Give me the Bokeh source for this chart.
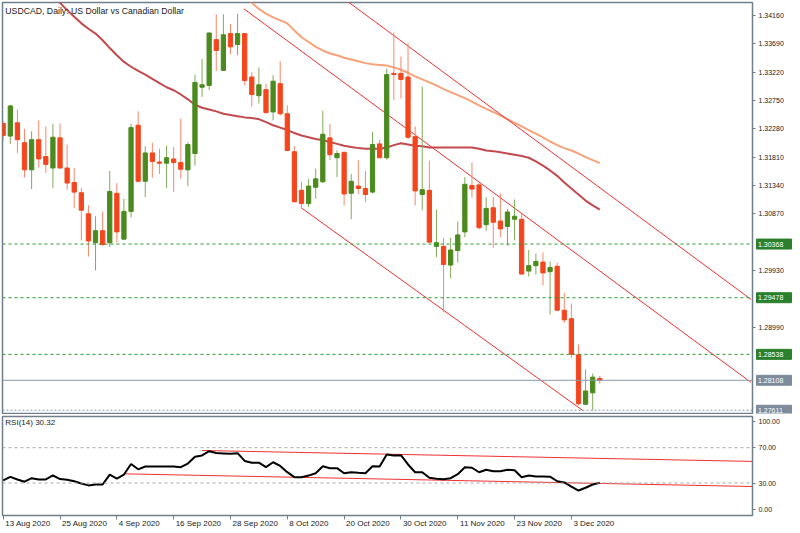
from bokeh.plotting import figure
from bokeh.layouts import column, row
from bokeh.models import Range1d, FixedTicker, Span, Label, NumeralTickFormatter, LinearAxis
from bokeh.core.properties import value
from bokeh.embed import file_html
from bokeh.resources import INLINE

# ---------------- data ----------------
opens = [1.3237, 1.3216, 1.3238, 1.3205, 1.3160, 1.3210, 1.3182, 1.3163, 1.3213, 1.3163,
         1.3139, 1.3122, 1.3087, 1.3039, 1.3059, 1.3039, 1.3121, 1.3045, 1.3091, 1.3234,
         1.3141, 1.3188, 1.3173, 1.3171, 1.3178, 1.3172, 1.3160, 1.3187, 1.3297, 1.3300,
         1.3376, 1.3325, 1.3386, 1.3368, 1.3386, 1.3314, 1.3283, 1.3293, 1.3256, 1.3303,
         1.3253, 1.3190, 1.3126, 1.3104, 1.3131, 1.3140, 1.3213, 1.3180, 1.3189, 1.3121,
         1.3133, 1.3129, 1.3123, 1.3203, 1.3180, 1.3320, 1.3320, 1.3314, 1.3215, 1.3119,
         1.3126, 1.3033, 1.3033, 1.3002, 1.3026, 1.3057, 1.3134, 1.3135, 1.3069, 1.3097,
         1.3075, 1.3066, 1.3078, 1.3078, 1.2992, 1.3001, 1.3007, 1.2991, 1.3000, 1.2927,
         1.2913, 1.2853, 1.2771, 1.2790, 1.2814]
highs = [1.3241, 1.3268, 1.3260, 1.3228, 1.3224, 1.3242, 1.3232, 1.3236, 1.3237, 1.3202,
         1.3163, 1.3130, 1.3101, 1.3083, 1.3091, 1.3158, 1.3138, 1.3112, 1.3236, 1.3257,
         1.3199, 1.3205, 1.3195, 1.3200, 1.3198, 1.3245, 1.3206, 1.3318, 1.3344, 1.3388,
         1.3418, 1.3418, 1.3402, 1.3419, 1.3387, 1.3322, 1.3330, 1.3303, 1.3317, 1.3340,
         1.3267, 1.3199, 1.3140, 1.3145, 1.3162, 1.3258, 1.3236, 1.3192, 1.3190, 1.3153,
         1.3176, 1.3158, 1.3223, 1.3210, 1.3328, 1.3388, 1.3348, 1.3370, 1.3232, 1.3298,
         1.3175, 1.3094, 1.3047, 1.3047, 1.3074, 1.3148, 1.3172, 1.3140, 1.3115, 1.3115,
         1.3121, 1.3095, 1.3111, 1.3087, 1.3027, 1.3021, 1.3023, 1.3008, 1.3006, 1.2956,
         1.2938, 1.2870, 1.2829, 1.2822, 1.2818]
lows = [1.3208, 1.3203, 1.3188, 1.3147, 1.3128, 1.3164, 1.3155, 1.3130, 1.3162, 1.3127,
        1.3097, 1.3043, 1.3016, 1.2993, 1.3034, 1.3032, 1.3039, 1.3044, 1.3081, 1.3140,
        1.3115, 1.3147, 1.3153, 1.3130, 1.3123, 1.3145, 1.3133, 1.3167, 1.3281, 1.3292,
        1.3324, 1.3324, 1.3352, 1.3350, 1.3300, 1.3265, 1.3270, 1.3253, 1.3242, 1.3250,
        1.3192, 1.3106, 1.3098, 1.3098, 1.3112, 1.3139, 1.3176, 1.3148, 1.3101, 1.3078,
        1.3120, 1.3106, 1.3121, 1.3179, 1.3177, 1.3276, 1.3278, 1.3211, 1.3101, 1.3093,
        1.3040, 1.3015, 1.2924, 1.2980, 1.3006, 1.3048, 1.3114, 1.3061, 1.3059, 1.3031,
        1.3048, 1.3034, 1.3043, 1.2987, 1.2983, 1.2986, 1.2968, 1.2920, 1.2927, 1.2906,
        1.2848, 1.2769, 1.2769, 1.2761, 1.2805]
closes = [1.3217, 1.3266, 1.3210, 1.3160, 1.3210, 1.3178, 1.3169, 1.3214, 1.3163, 1.3138,
          1.3123, 1.3093, 1.3042, 1.3059, 1.3036, 1.3124, 1.3057, 1.3091, 1.3230, 1.3141,
          1.3188, 1.3174, 1.3171, 1.3180, 1.3172, 1.3161, 1.3202, 1.3305, 1.3301, 1.3387,
          1.3358, 1.3384, 1.3364, 1.3386, 1.3308, 1.3285, 1.3301, 1.3255, 1.3307, 1.3253,
          1.3192, 1.3107, 1.3104, 1.3133, 1.3145, 1.3219, 1.3185, 1.3187, 1.3120, 1.3141,
          1.3129, 1.3119, 1.3202, 1.3180, 1.3318, 1.3318, 1.3310, 1.3214, 1.3125, 1.3127,
          1.3040, 1.3039, 1.3003, 1.3027, 1.3052, 1.3136, 1.3128, 1.3064, 1.3096, 1.3073,
          1.3062, 1.3090, 1.3083, 1.2987, 1.3001, 1.3008, 1.2989, 1.2998, 1.2927, 1.2911,
          1.2854, 1.2772, 1.2793, 1.2816, 1.2811]

red_ma_start = 7
red_ma = [1.3447, 1.3437, 1.3425, 1.3414, 1.3403, 1.3394, 1.3386, 1.3375, 1.3362, 1.3350,
          1.3339, 1.3331, 1.3324, 1.3318, 1.3311, 1.3304, 1.3297, 1.3292, 1.3285, 1.3277,
          1.3268, 1.3263, 1.3260, 1.3257, 1.3253, 1.3251, 1.3249, 1.3247, 1.3246, 1.3244,
          1.3239, 1.3234, 1.3230, 1.3226, 1.3221, 1.3217, 1.3214, 1.3211, 1.3209, 1.3206,
          1.3203, 1.3200, 1.3198, 1.3196, 1.3195, 1.3195, 1.3195, 1.3197, 1.3201, 1.3204,
          1.3202, 1.3200, 1.3199, 1.3197, 1.3197, 1.3197, 1.3197, 1.3197, 1.3197, 1.3197,
          1.3195, 1.3192, 1.3191, 1.3189, 1.3187, 1.3185, 1.3183, 1.3180, 1.3174, 1.3167,
          1.3159, 1.3150, 1.3139, 1.3129, 1.3119, 1.3109, 1.3101, 1.3094]

orange_ma_start = 34
orange_ma = [1.3447, 1.3437, 1.3427, 1.3419, 1.3413, 1.3408, 1.3403, 1.3391, 1.3380, 1.3372,
             1.3364, 1.3358, 1.3353, 1.3350, 1.3346, 1.3343, 1.3340, 1.3337, 1.3335, 1.3334,
             1.3333, 1.3330, 1.3326, 1.3321, 1.3315, 1.3310, 1.3305, 1.3300, 1.3294, 1.3289,
             1.3284, 1.3279, 1.3273, 1.3267, 1.3261, 1.3256, 1.3250, 1.3244, 1.3238, 1.3232,
             1.3226, 1.3220, 1.3214, 1.3207, 1.3201, 1.3196, 1.3192, 1.3187, 1.3181, 1.3176, 1.3171]

rsi = [33.0, 37.0, 34.0, 31.5, 35.5, 34.0, 34.0, 38.5, 34.5, 33.6,
       32.0, 29.5, 27.3, 28.3, 28.3, 39.5, 35.0, 39.6, 51.5, 45.5,
       48.7, 48.7, 48.7, 48.7, 48.7, 47.9, 52.0, 59.8, 61.2, 66.0,
       64.0, 63.5, 63.0, 63.8, 55.0, 53.0, 53.0, 48.0, 53.5, 49.3,
       42.3, 36.6, 36.6, 38.4, 41.1, 49.0, 46.8, 46.8, 41.1, 42.2,
       41.5, 41.1, 49.0, 48.7, 62.3, 61.2, 61.5, 51.0, 42.2, 42.2,
       35.9, 34.8, 34.2, 35.5, 40.0, 47.9, 47.3, 42.2, 45.0, 43.4,
       43.4, 45.0, 44.5, 36.6, 38.5, 37.4, 37.4, 37.2, 32.0, 30.6,
       26.0, 21.5, 24.6, 28.3, 30.32]

# trend lines: (bar index, value) end points
channel_mid_x = [33.9, 105.3]
channel_mid_y = [1.3427, 1.28072]
channel_up_x = [46.0, 105.3]
channel_up_y = [1.3461, 1.29449]
channel_low_x = [41.9, 81.6]
channel_low_y = [1.30975, 1.27607]
rsi_up_x = [28.0, 105.7]
rsi_up_y = [66.8, 54.4]
rsi_low_x = [17.0, 105.7]
rsi_low_y = [40.4, 26.0]

levels = [1.30368, 1.29478, 1.28538]
bid_price = 1.28108
low_price = 1.27611

price_ticks = [1.34160, 1.33690, 1.33220, 1.32750, 1.32280, 1.31810, 1.31340,
               1.30870, 1.29930, 1.28990]
rsi_ticks = [0, 30, 70, 100]
date_idx = [0, 8, 16, 24, 32, 40, 48, 56, 64, 72, 80]
date_labels = ["13 Aug 2020", "25 Aug 2020", "4 Sep 2020", "16 Sep 2020", "28 Sep 2020",
               "8 Oct 2020", "20 Oct 2020", "30 Oct 2020", "11 Nov 2020", "23 Nov 2020",
               "3 Dec 2020"]

title_text = "USDCAD, Daily:  US Dollar vs Canadian Dollar"
rsi_text = "RSI(14) 30.32"

# ---------------- styling ----------------
GREEN = "#4b8a1e"
GREEN_W = "#7fab5a"
RED = "#f4461e"
RED_W = "#f7886b"
FONT = "Liberation Sans"
TXT = "#1a1a1a"
FRAME = "#6f7f8c"
BOX_GREEN = "#2c7f2c"
BOX_GRAY = "#7d8b9b"

X0, X1 = -0.1, 105.5
FRAME_W = 750
PX_PER_BAR = FRAME_W / (X1 - X0)
DATE_FS = 8
# Arial/Liberation Sans advance widths (per 1000 em) for left-aligning date labels
ADV = {" ": 278, "A": 667, "D": 722, "N": 722, "O": 778, "S": 667, "c": 500, "e": 556,
       "g": 556, "o": 556, "p": 556, "t": 278, "u": 556, "v": 500}


def text_w(s):
    return sum(ADV.get(ch, 556) for ch in s) * DATE_FS / 1000.0


n = len(opens)
xs = list(range(n))
body_top = [max(o, c) for o, c in zip(opens, closes)]
body_bot = [min(o, c) for o, c in zip(opens, closes)]
body_col = [GREEN if c >= o else RED for o, c in zip(opens, closes)]
wick_col = [GREEN_W if c >= o else RED_W for o, c in zip(opens, closes)]

xr = Range1d(X0, X1)
yr = Range1d(1.27557, 1.34376)

p = figure(width=800, height=414, x_range=xr, y_range=yr,
           output_backend="svg", toolbar_location=None, y_axis_location="right",
           x_axis_location=None, min_border_left=2, min_border_right=48,
           min_border_top=2, min_border_bottom=1)
p.grid.visible = False
p.outline_line_color = FRAME
p.outline_line_width = 1.5
p.background_fill_color = "white"
p.border_fill_color = "white"
ax = p.yaxis[0]
ax.ticker = FixedTicker(ticks=price_ticks)
ax.formatter = NumeralTickFormatter(format="0.00000")
ax.major_label_text_font = FONT
ax.major_label_text_font_size = "7px"
ax.major_label_text_color = TXT
ax.major_tick_in = 0
ax.major_tick_out = 3
ax.minor_tick_out = 0
ax.minor_tick_in = 0
ax.major_label_standoff = 3
ax.axis_line_color = FRAME
ax.major_tick_line_color = FRAME

for lv in levels:
    p.add_layout(Span(location=lv, dimension="width", line_color="#2a9a2a",
                      line_dash="3 3", line_width=1))
p.add_layout(Span(location=bid_price, dimension="width", line_color="#8a99a8", line_width=1))
p.add_layout(Span(location=low_price, dimension="width", line_color="#8a99a8",
                  line_dash="2 2", line_width=1))

p.line(list(range(red_ma_start, red_ma_start + len(red_ma))), red_ma,
       line_color="#c24a4f", line_width=2)
p.line(list(range(orange_ma_start, orange_ma_start + len(orange_ma))), orange_ma,
       line_color="#f8a27a", line_width=2)

for tx, ty in [(channel_mid_x, channel_mid_y), (channel_up_x, channel_up_y),
               (channel_low_x, channel_low_y)]:
    p.line(tx, ty, line_color="#f03030", line_width=1)

p.segment(x0=xs, y0=lows, x1=xs, y1=highs, line_color=wick_col, line_width=1)
p.vbar(x=xs, width=0.6, top=body_top, bottom=body_bot, fill_color=body_col,
       line_color=body_col, line_width=1)

p.add_layout(Label(x=0.3, y=1.3432, text=title_text, text_font=FONT,
                   text_font_size="8.7px", text_color=TXT, text_baseline="top"))

# ---------------- price-label strip laid over the right axis ----------------
s = figure(width=48, height=414, x_range=Range1d(0, 48), y_range=yr,
           output_backend="svg", toolbar_location=None, x_axis_location=None,
           y_axis_location=None, min_border_left=0, min_border_right=0,
           min_border_top=2, min_border_bottom=1, margin=(0, 0, 0, -48))
s.grid.visible = False
s.outline_line_color = None
s.background_fill_alpha = 0
s.border_fill_alpha = 0
box_vals = levels + [bid_price, low_price]
box_cols = [BOX_GREEN, BOX_GREEN, BOX_GREEN, BOX_GRAY, BOX_GRAY]
box_txt = [f"{v:.5f}" for v in box_vals]
s.rect(x=[21.5] * len(box_vals), y=box_vals, width=35, height=10, height_units="screen",
       fill_color=box_cols, line_color=box_cols)
s.text(x=[5.5] * len(box_vals), y=box_vals, text=box_txt, text_color="white",
       text_font=value(FONT), text_font_size="7px", text_baseline="middle", text_align="left")

top = row(p, s, spacing=0)

# ---------------- RSI panel ----------------
r = figure(width=800, height=119, x_range=xr, y_range=Range1d(-6.8, 105.3),
           output_backend="svg", toolbar_location=None, y_axis_location="right",
           min_border_left=2, min_border_right=48, min_border_top=2, min_border_bottom=18)
r.grid.visible = False
r.outline_line_color = FRAME
r.outline_line_width = 1.5
r.border_fill_color = "white"
ry = r.yaxis[0]
ry.ticker = FixedTicker(ticks=rsi_ticks)
ry.formatter = NumeralTickFormatter(format="0.00")
ry.major_label_text_font = FONT
ry.major_label_text_font_size = "7px"
ry.major_label_text_color = TXT
ry.major_tick_in = 0
ry.major_tick_out = 3
ry.minor_tick_in = 0
ry.minor_tick_out = 0
ry.major_label_standoff = 3
ry.axis_line_color = FRAME
ry.major_tick_line_color = FRAME

# tick marks at the label dates
rx = r.xaxis[0]
rx.ticker = FixedTicker(ticks=date_idx)
rx.major_label_overrides = {i: "" for i in date_idx}
rx.major_label_text_font_size = "0px"
rx.major_tick_in = 0
rx.major_tick_out = 4
rx.minor_tick_in = 0
rx.minor_tick_out = 0
rx.major_label_standoff = 0
rx.axis_line_color = FRAME
rx.major_tick_line_color = FRAME

# left-aligned date labels (second axis whose ticks sit at each label's centre)
label_pos = [round(i + (2 + text_w(t) / 2) / PX_PER_BAR, 4) for i, t in zip(date_idx, date_labels)]
rx2 = LinearAxis(ticker=FixedTicker(ticks=label_pos),
                 major_label_overrides={pos: t for pos, t in zip(label_pos, date_labels)})
rx2.major_label_text_font = FONT
rx2.major_label_text_font_size = f"{DATE_FS}px"
rx2.major_label_text_color = TXT
rx2.major_tick_in = 0
rx2.major_tick_out = 0
rx2.minor_tick_in = 0
rx2.minor_tick_out = 0
rx2.major_label_standoff = -1
rx2.axis_line_color = None
r.add_layout(rx2, "below")

for lv in [70, 30]:
    r.add_layout(Span(location=lv, dimension="width", line_color="#a8a8a8",
                      line_dash="3 3", line_width=1))
r.line(rsi_up_x, rsi_up_y, line_color="#f03030", line_width=1)
r.line(rsi_low_x, rsi_low_y, line_color="#f03030", line_width=1)
r.line(xs, rsi, line_color="black", line_width=2)
r.add_layout(Label(x=0.3, y=103.5, text=rsi_text, text_font=FONT, text_font_size="8px",
                   text_color=TXT, text_baseline="top"))

layout = column(top, r, spacing=0)
open("out.html", "w").write(file_html(layout, INLINE))
